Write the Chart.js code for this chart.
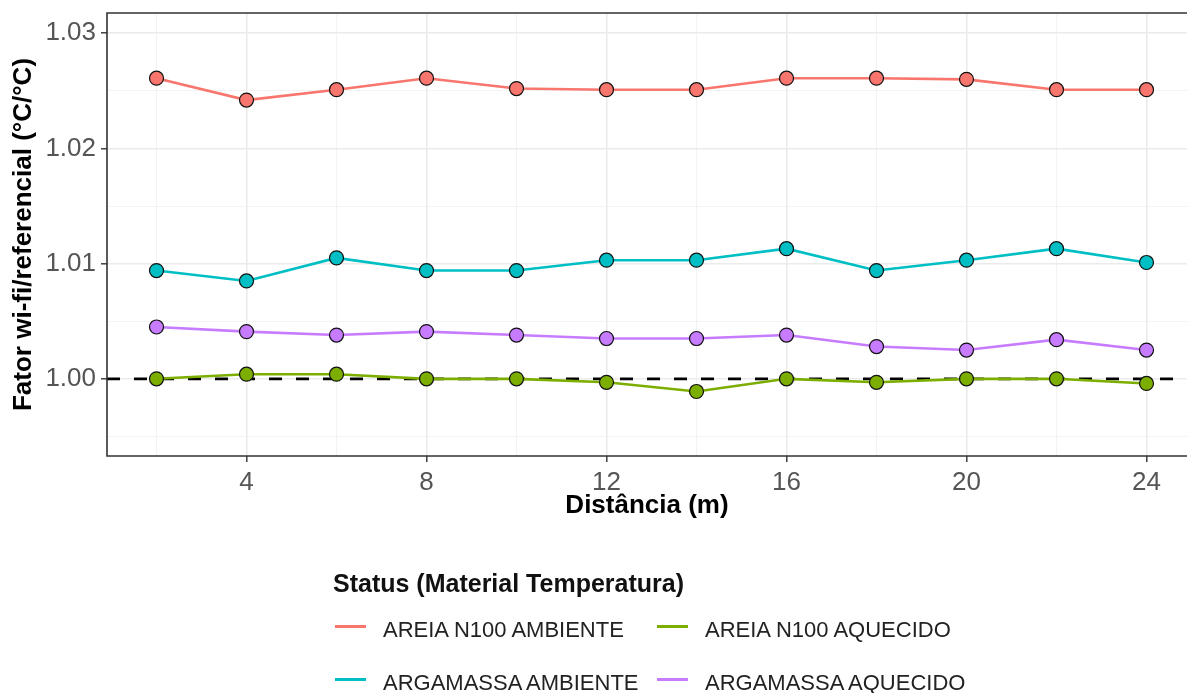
<!DOCTYPE html>
<html>
<head>
<meta charset="utf-8">
<script src="https://cdn.jsdelivr.net/npm/chart.js@4.4.1/dist/chart.umd.min.js"></script>
<style>
  html, body { margin: 0; padding: 0; background: #ffffff; }
  #wrap { position: relative; width: 1187px; height: 693px; overflow: hidden; font-family: 'Liberation Sans', Arial, sans-serif; }
  #chart { position: absolute; left: 0; top: 0; }
  .lg-title { position: absolute; left: 333px; top: 570px; height: 26px; line-height: 26px; font-size: 25px; font-weight: bold; color: #111; white-space: nowrap; }
  .lg-item { position: absolute; height: 22px; line-height: 22px; font-size: 22px; color: #222; white-space: nowrap; }
  .lg-key { position: absolute; width: 31px; height: 3px; }
</style>
</head>
<body>
<div id="wrap">
  <canvas id="chart" width="1187" height="693"></canvas>
  <div id="legend"></div>
</div>
<script>
// Distance along the run (m)
const distances = [2, 4, 6, 8, 10, 12, 14, 16, 18, 20, 22, 24];

// Wi-fi / reference factor per material and condition
const areiaAmbiente  = [1.0261, 1.0242, 1.0251, 1.0261, 1.0252, 1.0251, 1.0251, 1.0261, 1.0261, 1.0260, 1.0251, 1.0251];
const areiaAquecido  = [1.0000, 1.0004, 1.0004, 1.0000, 1.0000, 0.9997, 0.9989, 1.0000, 0.9997, 1.0000, 1.0000, 0.9996];
const argamassaAmbiente = [1.0094, 1.0085, 1.0105, 1.0094, 1.0094, 1.0103, 1.0103, 1.0113, 1.0094, 1.0103, 1.0113, 1.0101];
const argamassaAquecido = [1.0045, 1.0041, 1.0038, 1.0041, 1.0038, 1.0035, 1.0035, 1.0038, 1.0028, 1.0025, 1.0034, 1.0025];

const seriesNames = ['AREIA N100 AMBIENTE', 'AREIA N100 AQUECIDO', 'ARGAMASSA AMBIENTE', 'ARGAMASSA AQUECIDO'];
const seriesColors = ['#F8766D', '#7CAE00', '#00BFC4', '#C77CFF'];

// Axis ticks
const xMajorTicks = [4, 8, 12, 16, 20, 24];
const xMinorTicks = [2, 6, 10, 14, 18, 22];
const yMajorTicks = [1.00, 1.01, 1.02, 1.03];
const yMinorTicks = [0.995, 1.005, 1.015, 1.025];

// Reference level (dashed line)
const referenceLevel = 1.00;

const FONT = "'Liberation Sans', Arial, sans-serif";

function isMajor(list, v) {
  return list.some(m => Math.abs(m - v) < 1e-9);
}

const seriesValues = [areiaAmbiente, areiaAquecido, argamassaAmbiente, argamassaAquecido];

const datasets = seriesValues.map((vals, i) => ({
  label: seriesNames[i],
  data: distances.map((d, j) => ({ x: d, y: vals[j] })),
  borderColor: seriesColors[i],
  backgroundColor: seriesColors[i],
  borderWidth: 2.6,
  pointRadius: 7,
  pointHoverRadius: 7,
  pointBorderColor: '#111111',
  pointBorderWidth: 1.2,
  pointBackgroundColor: seriesColors[i],
  tension: 0,
  fill: false
}));

// Dashed reference line under the series, plus the panel frame
const panelPlugin = {
  id: 'panel',
  beforeDatasetsDraw(chart) {
    const { ctx, chartArea, scales } = chart;
    const y = scales.y.getPixelForValue(referenceLevel);
    ctx.save();
    ctx.strokeStyle = '#000000';
    ctx.lineWidth = 2.6;
    ctx.setLineDash([13, 14]);
    ctx.beginPath();
    ctx.moveTo(chartArea.left, y);
    ctx.lineTo(chartArea.right, y);
    ctx.stroke();
    ctx.restore();
  },
  afterDraw(chart) {
    const { ctx, chartArea } = chart;
    ctx.save();
    ctx.strokeStyle = '#333333';
    ctx.lineWidth = 1.6;
    ctx.beginPath();
    ctx.moveTo(chartArea.right + 2, chartArea.top);
    ctx.lineTo(chartArea.left, chartArea.top);
    ctx.lineTo(chartArea.left, chartArea.bottom);
    ctx.lineTo(chartArea.right + 2, chartArea.bottom);
    ctx.stroke();
    ctx.restore();
  }
};

new Chart(document.getElementById('chart'), {
  type: 'line',
  data: { datasets },
  plugins: [panelPlugin],
  options: {
    responsive: false,
    animation: false,
    devicePixelRatio: 1,
    layout: { autoPadding: false, padding: { left: 0, top: 13, right: 0, bottom: 173 } },
    plugins: {
      legend: { display: false },
      tooltip: { enabled: false }
    },
    scales: {
      x: {
        type: 'linear',
        min: 0.9,
        max: 24.9,
        afterBuildTicks(scale) {
          scale.ticks = xMinorTicks.concat(xMajorTicks).sort((a, b) => a - b).map(v => ({ value: v }));
        },
        afterFit(scale) {
          scale.height = 64;
          scale.paddingLeft = 0;
          scale.paddingRight = 0;
        },
        border: { display: false },
        grid: {
          drawTicks: true,
          tickLength: 6,
          tickWidth: 1.4,
          color: c => isMajor(xMajorTicks, c.tick.value) ? '#EBEBEB' : '#F2F2F2',
          lineWidth: c => isMajor(xMajorTicks, c.tick.value) ? 1.6 : 0.9,
          tickColor: c => isMajor(xMajorTicks, c.tick.value) ? '#333333' : 'rgba(0,0,0,0)'
        },
        ticks: {
          autoSkip: false,
          maxRotation: 0,
          padding: 5,
          color: '#555555',
          font: { family: FONT, size: 26 },
          callback: v => isMajor(xMajorTicks, v) ? String(v) : ''
        },
        title: {
          display: true,
          text: 'Distância (m)',
          color: '#000000',
          font: { family: FONT, size: 26, weight: 'bold', lineHeight: 1 },
          padding: { top: 0, bottom: 1 }
        }
      },
      y: {
        type: 'linear',
        min: 0.9933,
        max: 1.03176,
        afterBuildTicks(scale) {
          scale.ticks = yMinorTicks.concat(yMajorTicks).sort((a, b) => a - b).map(v => ({ value: v }));
        },
        afterFit(scale) {
          scale.width = 107;
          scale.paddingTop = 0;
          scale.paddingBottom = 0;
        },
        border: { display: false },
        grid: {
          drawTicks: true,
          tickLength: 6,
          tickWidth: 1.4,
          color: c => isMajor(yMajorTicks, c.tick.value) ? '#EBEBEB' : '#F2F2F2',
          lineWidth: c => isMajor(yMajorTicks, c.tick.value) ? 1.6 : 0.9,
          tickColor: c => isMajor(yMajorTicks, c.tick.value) ? '#333333' : 'rgba(0,0,0,0)'
        },
        ticks: {
          autoSkip: false,
          padding: 5,
          color: '#555555',
          font: { family: FONT, size: 26 },
          callback: v => isMajor(yMajorTicks, v) ? v.toFixed(2) : ''
        },
        title: {
          display: true,
          text: 'Fator wi-fi/referencial (°C/°C)',
          color: '#000000',
          font: { family: FONT, size: 26, weight: 'bold', lineHeight: 1.2 },
          padding: { top: 8, bottom: 0 }
        }
      }
    }
  }
});

// Legend below the panel, two columns filled by row
const legend = document.getElementById('legend');
const title = document.createElement('div');
title.className = 'lg-title';
title.textContent = 'Status (Material Temperatura)';
legend.appendChild(title);

const colX = [335, 657];
const rowY = [630, 683];
seriesNames.forEach((name, i) => {
  const col = i % 2, row = Math.floor(i / 2);
  const key = document.createElement('div');
  key.className = 'lg-key';
  key.style.left = colX[col] + 'px';
  key.style.top = (rowY[row] - 5) + 'px';
  key.style.background = seriesColors[i];
  legend.appendChild(key);
  const label = document.createElement('div');
  label.className = 'lg-item';
  label.style.left = (colX[col] + 48) + 'px';
  label.style.top = (rowY[row] - 11) + 'px';
  label.textContent = name;
  legend.appendChild(label);
});
</script>
</body>
</html>
